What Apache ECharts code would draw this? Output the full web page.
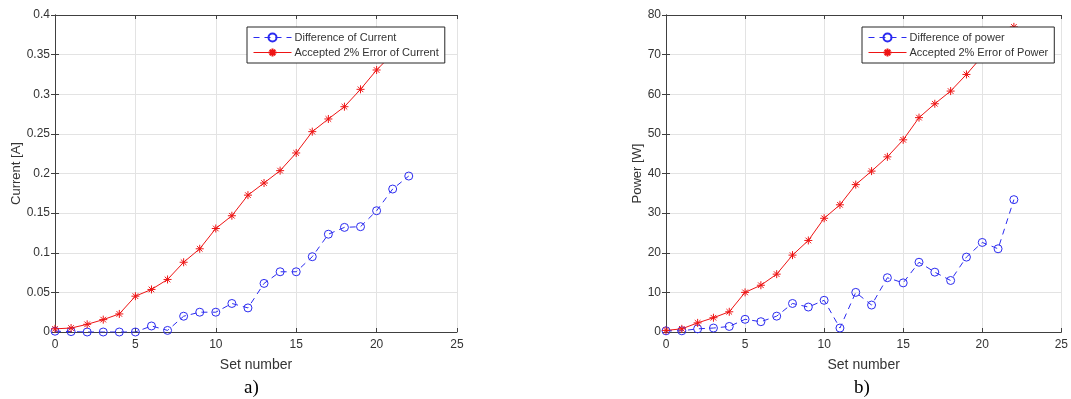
<!DOCTYPE html>
<html>
<head>
<meta charset="utf-8">
<style>
  html, body { margin: 0; padding: 0; background: #fff; }
  #chart { width: 1071px; height: 399px; }
</style>
<script src="https://cdn.jsdelivr.net/npm/echarts@6/dist/echarts.min.js"></script>
</head>
<body>
<div id="chart"></div>
<script>
// set numbers on the x axis
const setNumbers = [0, 1, 2, 3, 4, 5, 6, 7, 8, 9, 10, 11, 12, 13, 14, 15, 16, 17, 18, 19, 20, 21, 22];

// a) current [A]
const currentDiff = [0.001, 0.0005, 0, 0, 0, 0, 0.0076, 0.002, 0.0199, 0.025, 0.025, 0.036, 0.0304,
  0.0613, 0.076, 0.076, 0.095, 0.1234, 0.132, 0.1329, 0.153, 0.1804, 0.1968];
const currentErr = [0.004, 0.005, 0.0097, 0.0156, 0.0228, 0.0452, 0.0537, 0.0663, 0.088, 0.105, 0.1306,
  0.1467, 0.1727, 0.188, 0.2036, 0.2259, 0.2528, 0.2688, 0.2843, 0.3062, 0.3306, 0.351, 0.37];

// b) power [W]
const powerDiff = [0.3, 0.3, 0.8, 1.0, 1.4, 3.2, 2.6, 4.0, 7.2, 6.3, 8.0, 1.0, 10.0, 6.8, 13.7,
  12.4, 17.6, 15.1, 13.0, 18.9, 22.6, 21.0, 33.4];
const powerErr = [0.4, 0.8, 2.3, 3.6, 5.1, 10.0, 11.8, 14.6, 19.4, 23.1, 28.7, 32.1, 37.2, 40.6,
  44.2, 48.5, 54.1, 57.6, 60.8, 65.0, 69.6, 73.0, 77.0];

const seriesNames = {
  currentDiff: 'Difference of Current',
  currentErr: 'Accepted 2% Error of Current',
  powerDiff: 'Difference of power',
  powerErr: 'Accepted 2% Error of Power'
};

const BLUE = '#2b2bf0';
const RED = '#ee1414';
const AXIS = '#404040';
const TEXT = '#333';
const GRIDLINE = '#e3e3e3';
const FONT = 'Arial, Liberation Sans';
const STAR = 'path://M0,-10L0,10M-10,0L10,0M-7,-7L7,7M-7,7L7,-7';

const pairs = (ys) => setNumbers.map((x, i) => [x, ys[i]]);

const chart = echarts.init(document.getElementById('chart'));

function xAxes(gridIndex) {
  return [
    {
      type: 'value', gridIndex, min: 0, max: 25, interval: 5,
      name: 'Set number', nameLocation: 'middle', nameGap: 26,
      nameTextStyle: { color: TEXT, fontSize: 14, fontFamily: FONT },
      axisLine: { show: true, onZero: false, lineStyle: { color: AXIS } },
      axisTick: { show: true, inside: true, length: 4, lineStyle: { color: AXIS } },
      axisLabel: { color: TEXT, fontSize: 12, margin: 7, fontFamily: FONT },
      splitLine: { show: true, lineStyle: { color: GRIDLINE } }
    },
    {
      type: 'value', gridIndex, min: 0, max: 25, interval: 5, position: 'top',
      axisLine: { show: true, onZero: false, lineStyle: { color: AXIS } },
      axisTick: { show: true, inside: true, length: 4, lineStyle: { color: AXIS } },
      axisLabel: { show: false }, splitLine: { show: false }
    }
  ];
}

function yAxes(gridIndex, max, interval, name, nameGap) {
  return [
    {
      type: 'value', gridIndex, min: 0, max, interval,
      name, nameLocation: 'middle', nameGap,
      nameTextStyle: { color: TEXT, fontSize: 13, fontFamily: FONT },
      axisLine: { show: true, lineStyle: { color: AXIS } },
      axisTick: { show: true, inside: true, length: 4, lineStyle: { color: AXIS } },
      axisLabel: { color: TEXT, fontSize: 12, margin: 5, fontFamily: FONT },
      splitLine: { show: true, lineStyle: { color: GRIDLINE } }
    },
    {
      type: 'value', gridIndex, min: 0, max, interval, position: 'right',
      axisLine: { show: true, lineStyle: { color: AXIS } },
      axisTick: { show: true, inside: true, length: 4, lineStyle: { color: AXIS } },
      axisLabel: { show: false }, splitLine: { show: false }
    }
  ];
}

function diffSeries(name, data, idx) {
  return {
    name, type: 'line', xAxisIndex: idx * 2, yAxisIndex: idx * 2,
    data: pairs(data),
    symbol: 'circle', symbolSize: 8, showAllSymbol: true,
    lineStyle: { color: BLUE, width: 1, type: [6, 5] },
    itemStyle: { color: 'rgba(0,0,0,0)', borderColor: BLUE, borderWidth: 1 },
    z: 3, animation: false
  };
}

function errSeries(name, data, idx) {
  return {
    name, type: 'line', xAxisIndex: idx * 2, yAxisIndex: idx * 2,
    data: pairs(data),
    symbol: STAR, symbolSize: 8, showAllSymbol: true,
    lineStyle: { color: RED, width: 1 },
    itemStyle: { color: 'rgba(0,0,0,0)', borderColor: RED, borderWidth: 1 },
    z: 3, animation: false
  };
}

function legend(left, names) {
  return {
    left, top: 27, orient: 'vertical',
    data: names,
    backgroundColor: '#fff', borderColor: '#262626', borderWidth: 1, borderRadius: 0,
    padding: [5, 6, 5, 6], itemGap: 4, itemWidth: 38, itemHeight: 10,
    lineStyle: { width: 1 },
    textStyle: { color: TEXT, fontSize: 11, fontFamily: FONT, padding: [0, 0, 0, -2] }
  };
}

const option = {
  backgroundColor: '#fff',
  animation: false,
  title: [
    { text: 'a)', left: 239, top: 374, textStyle: { fontFamily: 'Liberation Serif', fontSize: 19, fontWeight: 'normal', color: '#000' } },
    { text: 'b)', left: 849, top: 374, textStyle: { fontFamily: 'Liberation Serif', fontSize: 19, fontWeight: 'normal', color: '#000' } }
  ],
  grid: [
    { left: 55, top: 15, width: 402, height: 317 },
    { left: 666, top: 15, width: 400, height: 317 }
  ],
  legend: [
    legend(247, [seriesNames.currentDiff, seriesNames.currentErr]),
    legend(862, [seriesNames.powerDiff, seriesNames.powerErr])
  ],
  xAxis: [...xAxes(0), ...xAxes(1)],
  yAxis: [
    ...yAxes(0, 0.4, 0.05, 'Current [A]', 31),
    ...yAxes(1, 80, 10, 'Power [W]', 22)
  ],
  series: [
    diffSeries(seriesNames.currentDiff, currentDiff, 0),
    errSeries(seriesNames.currentErr, currentErr, 0),
    diffSeries(seriesNames.powerDiff, powerDiff, 1),
    errSeries(seriesNames.powerErr, powerErr, 1)
  ]
};

chart.setOption(option);
</script>
</body>
</html>
